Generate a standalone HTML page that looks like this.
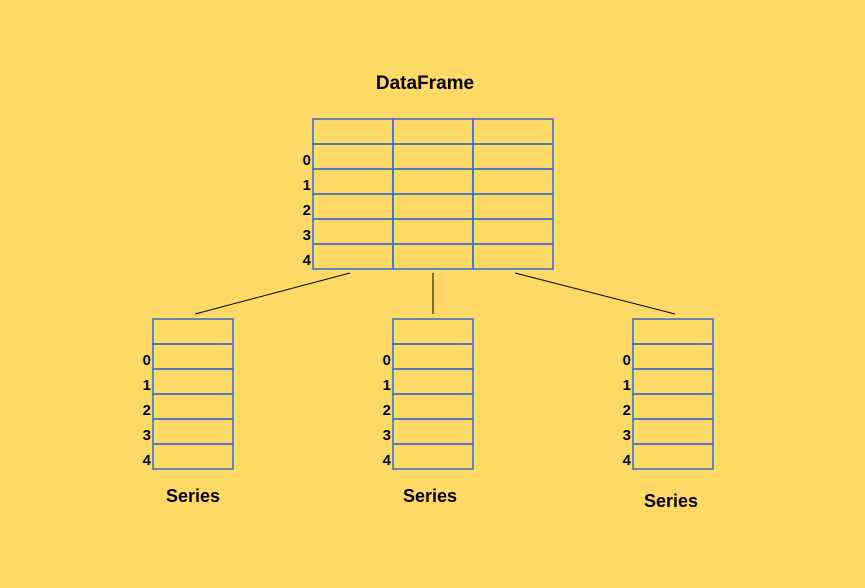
<!DOCTYPE html>
<html><head><meta charset="utf-8"><style>
html,body{margin:0;padding:0;background:#FFD966;}
svg{display:block;}
text{font-family:"Liberation Sans",sans-serif;font-weight:bold;fill:#000;}
</style></head><body>
<svg id="s" width="865" height="588" viewBox="0 0 865 588">
<rect width="865" height="588" fill="#FFD966"/>
<text x="425" y="89" font-size="19" text-anchor="middle">DataFrame</text>
<line x1="350" y1="273" x2="195" y2="314" stroke="#000" stroke-width="1"/>
<line x1="433" y1="273" x2="433" y2="314" stroke="#000" stroke-width="1"/>
<line x1="515" y1="273" x2="675" y2="314" stroke="#000" stroke-width="1"/>
<text x="193" y="502" font-size="18" text-anchor="middle">Series</text>
<text x="430" y="502" font-size="18" text-anchor="middle">Series</text>
<text x="671" y="507" font-size="18" text-anchor="middle">Series</text>
</svg>
<script>
const rowLabels=['0','1','2','3','4'];
const ns='http://www.w3.org/2000/svg';
const svg=document.getElementById('s');
function grid(x0,y0,cols,name){
  const g=document.createElementNS(ns,'g');
  
  
  const rows=rowLabels.length+1;
  for(let r=0;r<rows;r++){for(let c=0;c<cols;c++){
    const rc=document.createElementNS(ns,'rect');
    rc.setAttribute('x',x0+c*80);rc.setAttribute('y',y0+r*25);
    rc.setAttribute('width',80);rc.setAttribute('height',25);
    rc.setAttribute('fill','none');rc.setAttribute('stroke','#4472C4');rc.setAttribute('stroke-width','1.6');
    
    
    g.appendChild(rc);
  }}
  rowLabels.forEach((l,i)=>{
    const t=document.createElementNS(ns,'text');
    t.setAttribute('x',x0-2);t.setAttribute('y',y0+(i+1)*25+21);
    t.setAttribute('font-size','15');t.setAttribute('text-anchor','end');
    t.textContent=l;
    
    
    g.appendChild(t);
  });
  svg.appendChild(g);
}
grid(313,119,3,'dataframe-table');
grid(153,319,1,'series-table-left');
grid(393,319,1,'series-table-middle');
grid(633,319,1,'series-table-right');
</script>
</body></html>
